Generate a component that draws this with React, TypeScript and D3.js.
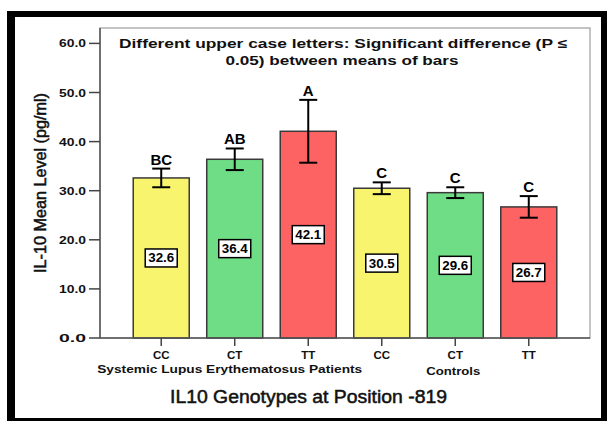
import React from 'react';
import * as d3 from 'd3';

const genotypes = ['CC', 'CT', 'TT', 'CC', 'CT', 'TT'];
const groupLabels = ['Systemic Lupus Erythematosus Patients', 'Controls'];
const groupOf = [0, 0, 0, 1, 1, 1];
const means = [32.6, 36.4, 42.1, 30.5, 29.6, 26.7];
const errors = [1.9, 2.2, 6.4, 1.2, 1.1, 2.2];
const letters = ['BC', 'AB', 'A', 'C', 'C', 'C'];
const yTicks = [0, 10, 20, 30, 40, 50, 60];
const genotypeColors: Record<string, string> = { CC: '#F8F46E', CT: '#6FDD85', TT: '#FE6363' };
const titleLines = [
  'Different upper case letters: Significant difference (P \u2264',
  '0.05) between means of bars',
];
const yTitle = 'IL-10 Mean Level (pg/ml)';
const xTitle = 'IL10 Genotypes at Position -819';

const W = 607;
const H = 421;
const plot = { left: 100, right: 590, top: 28, bottom: 338 };
const FONT = 'Arial, "Liberation Sans", sans-serif';

export default function App() {
  const idx = means.map((_, i) => String(i));
  const x = d3.scalePoint<string>().domain(idx).range([plot.left, plot.right]).padding(0.833);
  const y = d3.scaleLinear().domain([0, 60]).range([plot.bottom, 43.4]);
  const barW = 56;
  const capW = 18;

  const groupCenters = groupLabels.map((_, g) => {
    const xs = idx.filter((_, i) => groupOf[i] === g).map((k) => x(k) as number);
    return d3.mean(xs) as number;
  });

  return (
    <div style={{ position: 'absolute', left: 0, top: 0 }}>
      <svg width={W} height={H} style={{ display: 'block', fontFamily: FONT }}>
        <rect x={0} y={0} width={W} height={H} fill="#fff" />
        {/* outer black frame */}
        <rect x={7} y={11} width={W - 7} height={H - 11} fill="#000" />
        <rect x={15} y={17} width={601 - 15} height={418 - 17} fill="#fff" />

        {/* plot frame */}
        <rect x={plot.left} y={plot.top} width={plot.right - plot.left} height={plot.bottom - plot.top}
          fill="#fff" stroke="#b0b0b0" strokeWidth={1.5} />

        {/* title */}
        <text x={343} y={48} textAnchor="middle" fontSize={13} fontWeight="bold" fill="#111"
          textLength={448} lengthAdjust="spacingAndGlyphs">{titleLines[0]}</text>
        <text x={342} y={65} textAnchor="middle" fontSize={13} fontWeight="bold" fill="#111"
          textLength={233} lengthAdjust="spacingAndGlyphs">{titleLines[1]}</text>

        {/* bars */}
        {idx.map((k, i) => {
          const cx = x(k) as number;
          return (
            <rect key={'b' + k} x={cx - barW / 2} y={y(means[i])} width={barW}
              height={y(0) - y(means[i])} fill={genotypeColors[genotypes[i]]}
              stroke="#3a3a3a" strokeWidth={1.5} />
          );
        })}

        {/* error bars */}
        {idx.map((k, i) => {
          const cx = x(k) as number;
          const hi = y(means[i] + errors[i]);
          const lo = y(means[i] - errors[i]);
          return (
            <g key={'e' + k} stroke="#000" strokeWidth={2}>
              <line x1={cx} x2={cx} y1={hi} y2={lo} />
              <line x1={cx - capW / 2} x2={cx + capW / 2} y1={hi} y2={hi} />
              <line x1={cx - capW / 2} x2={cx + capW / 2} y1={lo} y2={lo} />
            </g>
          );
        })}

        {/* significance letters */}
        {idx.map((k, i) => (
          <text key={'l' + k} x={x(k) as number} y={y(means[i] + errors[i]) - 4} textAnchor="middle"
            fontSize={15} fontWeight="bold" fill="#000">{letters[i]}</text>
        ))}

        {/* value boxes */}
        {idx.map((k, i) => {
          const cx = x(k) as number;
          const cy = y(means[i] / 2);
          return (
            <g key={'v' + k}>
              <rect x={cx - 16} y={cy - 9} width={32} height={18} fill="#fff" stroke="#000" strokeWidth={1.5} />
              <text x={cx} y={cy + 4.5} textAnchor="middle" fontSize={12} fontWeight="bold" fill="#000"
                textLength={26} lengthAdjust="spacingAndGlyphs">{means[i].toFixed(1)}</text>
            </g>
          );
        })}

        {/* axes */}
        <line x1={plot.left} x2={plot.left} y1={plot.top} y2={plot.bottom} stroke="#555" strokeWidth={1.5} />
        <line x1={plot.left} x2={plot.right} y1={plot.bottom} y2={plot.bottom} stroke="#555" strokeWidth={1.5} />

        {yTicks.map((t) => (
          <g key={'yt' + t}>
            <line x1={89} x2={plot.left} y1={y(t)} y2={y(t)} stroke="#444" strokeWidth={1.5} />
            <text x={86} y={y(t) + 4} textAnchor="end" fontSize={11} fontWeight="bold" fill="#111"
              textLength={27} lengthAdjust="spacingAndGlyphs">{t.toFixed(1)}</text>
          </g>
        ))}

        {idx.map((k, i) => {
          const cx = x(k) as number;
          return (
            <g key={'xt' + k}>
              <line x1={cx} x2={cx} y1={plot.bottom} y2={346} stroke="#444" strokeWidth={1.5} />
              <text x={cx} y={359} textAnchor="middle" fontSize={11.5} fontWeight="bold" fill="#111">{genotypes[i]}</text>
            </g>
          );
        })}

        <text x={groupCenters[0] - 5} y={373} textAnchor="middle" fontSize={11.5} fontWeight="bold" fill="#111"
          textLength={265} lengthAdjust="spacingAndGlyphs">{groupLabels[0]}</text>
        <text x={groupCenters[1] - 2} y={375} textAnchor="middle" fontSize={11.5} fontWeight="bold" fill="#111"
          textLength={54} lengthAdjust="spacingAndGlyphs">{groupLabels[1]}</text>

        <text x={308.5} y={403} textAnchor="middle" fontSize={18} fill="#111" stroke="#111" strokeWidth={0.5}
          textLength={277} lengthAdjust="spacingAndGlyphs">{xTitle}</text>

        <text transform={`translate(46,183) rotate(-90)`} textAnchor="middle" fontSize={16} fill="#111"
          stroke="#111" strokeWidth={0.5}
          textLength={180} lengthAdjust="spacingAndGlyphs">{yTitle}</text>
      </svg>
    </div>
  );
}
